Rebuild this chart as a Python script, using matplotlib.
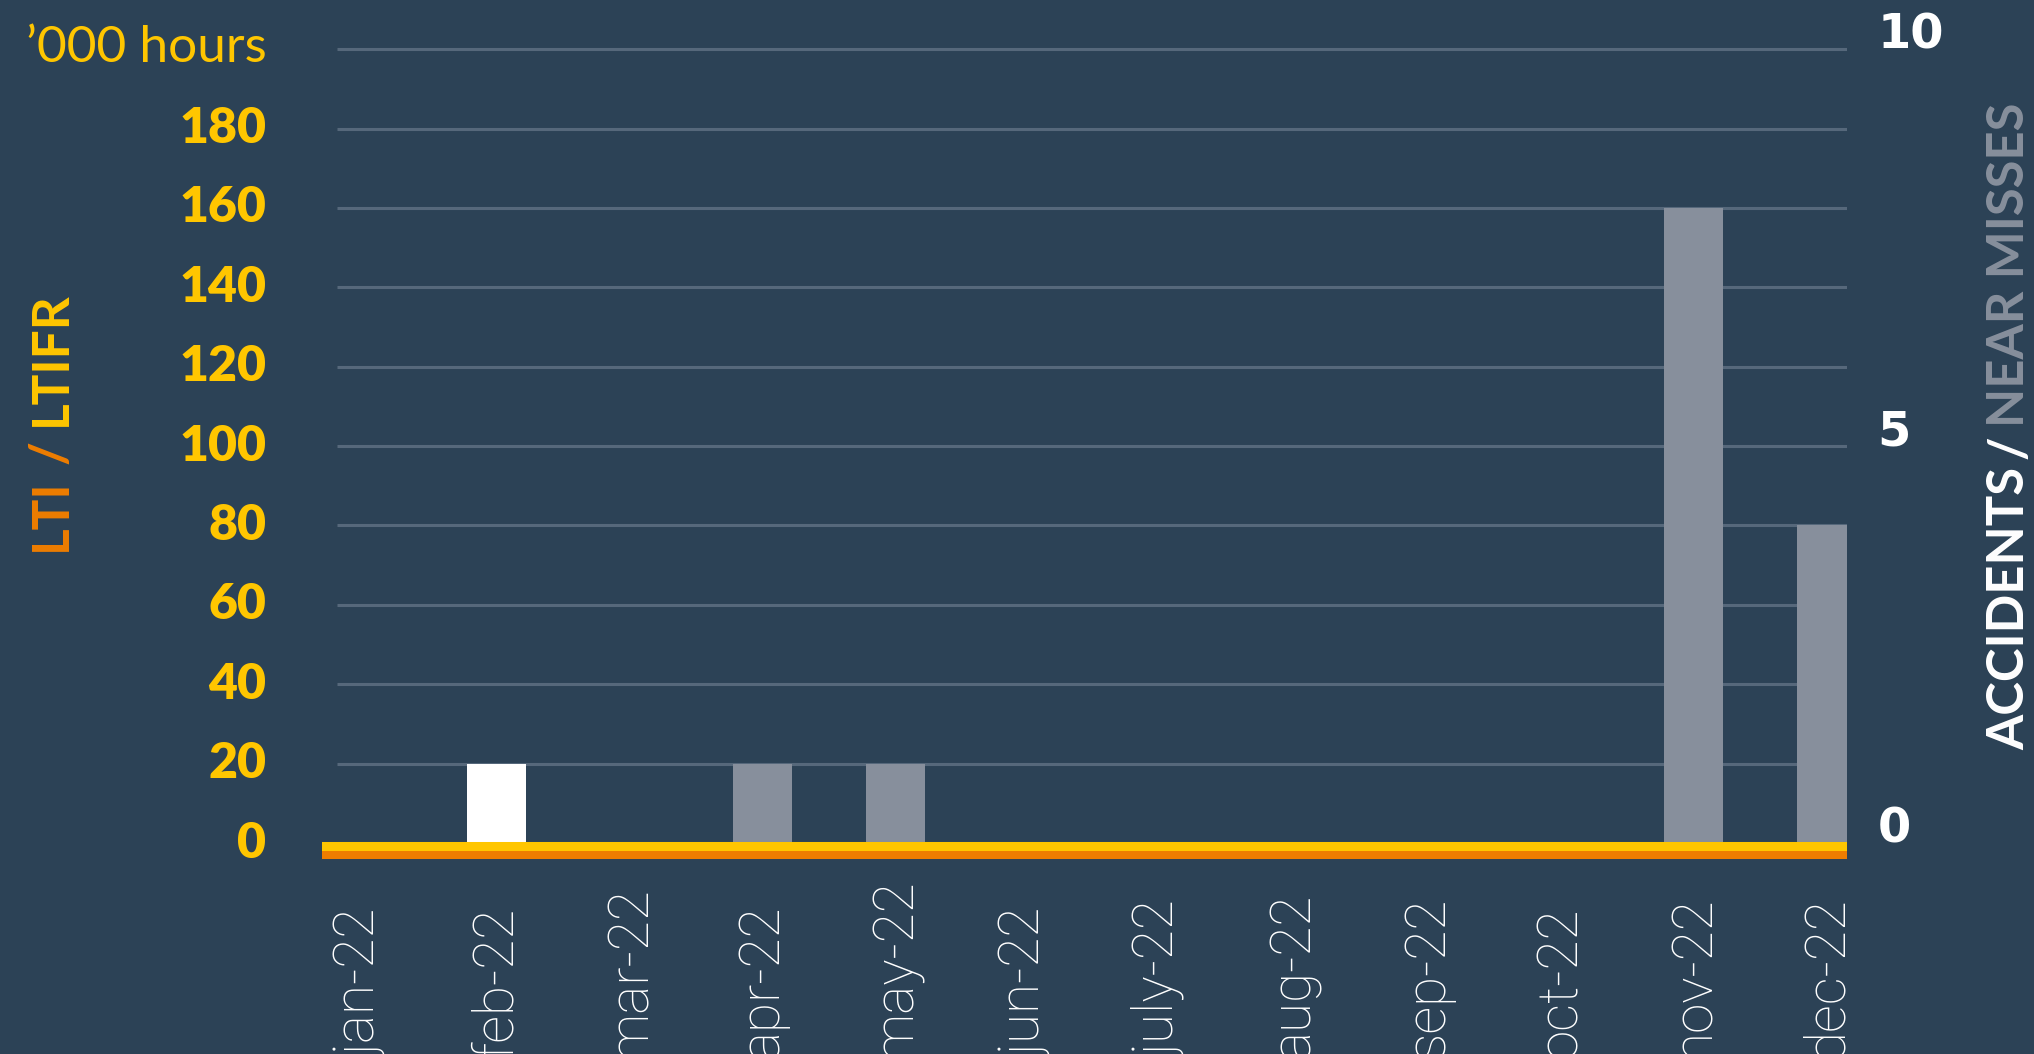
import numpy as np
import matplotlib.pyplot as plt
from matplotlib import transforms

# data
months = ['jan-22', 'feb-22', 'mar-22', 'apr-22', 'may-22', 'jun-22',
          'july-22', 'aug-22', 'sep-22', 'oct-22', 'nov-22', 'dec-22']
accidents = [0, 1, 0, 0, 0, 0, 0, 0, 0, 0, 0, 0]
near_misses = [0, 0, 0, 1, 1, 0, 0, 0, 0, 0, 8, 4]
lti = [0, 0, 0, 0, 0, 0, 0, 0, 0, 0, 0, 0]
ltifr = [0, 0, 0, 0, 0, 0, 0, 0, 0, 0, 0, 0]
left_ticks = [0, 20, 40, 60, 80, 100, 120, 140, 160, 180]
right_ticks = [0, 5, 10]
grid_levels = [0, 1, 2, 3, 4, 5, 6, 7, 8, 9, 10]   # in right-axis units (x20 on the left)

BG = '#2C4256'
GRID = '#56687B'
GREY = '#878F9C'
YELLOW = '#FFC600'
ORANGE = '#EE7D00'
W, H = 2034, 1054


def stack_rotated(fig, x_px, y_bottom_px, pieces, gap_px, **kw):
    # writes rotated text pieces one after another, from the bottom up
    r = fig.canvas.get_renderer()
    y = y_bottom_px
    for s, c in pieces:
        t = fig.text(x_px / W, 1 - y / H, s, rotation=90, ha='center', va='bottom',
                     color=c, **kw)
        y -= t.get_window_extent(r).height + gap_px


def shift(labels, fig, dy_px):
    for lab in labels:
        lab.set_transform(lab.get_transform() +
                          transforms.ScaledTranslation(0, dy_px / 100, fig.dpi_scale_trans))


def plot():
    fig = plt.figure(figsize=(W / 100, H / 100), dpi=100, facecolor=BG)
    ax = fig.add_axes([322 / W, 1 - 870 / H, 1525 / W, 830 / H])
    ax2 = ax.twinx()
    ax.set_zorder(ax2.get_zorder() + 1)
    ax.patch.set_visible(False)
    ax2.set_facecolor(BG)

    x_lo, x_hi = -0.31, 11.154
    x = np.arange(len(months))
    ax.set_xlim(x_lo, x_hi)
    ax.set_ylim(-6.8, 202.3)
    ax2.set_ylim(-0.34, 10.115)

    # grid (below bars)
    ax2.hlines(grid_levels, -0.2, x_hi, colors=GRID, lw=2.2, zorder=0)

    # bars
    ax2.bar(x, accidents, width=0.44, color='white', zorder=2)
    ax2.bar(x, near_misses, width=0.44, bottom=accidents, color=GREY, zorder=2)

    # LTI / LTIFR lines
    edges = np.arange(len(months) + 1) - 0.5
    off_y = transforms.offset_copy(ax.transData, fig=fig, x=0, y=-2.5, units='dots')
    off_o = transforms.offset_copy(ax.transData, fig=fig, x=0, y=-11.5, units='dots')
    ax.stairs(ltifr, edges, baseline=None, color=YELLOW, lw=6.5, transform=off_y, zorder=4)
    ax.stairs(lti, edges, baseline=None, color=ORANGE, lw=5.8, transform=off_o, zorder=3)

    for a in (ax, ax2):
        for s in a.spines.values():
            s.set_visible(False)
    ax.set_xticks([])

    ax.set_yticks(left_ticks, labels=[str(t) for t in left_ticks],
                  fontfamily='Lato', fontweight='heavy', fontsize=36, color=YELLOW)
    ax.tick_params(axis='y', length=0, pad=40)
    shift(ax.get_yticklabels(), fig, 4)
    ax2.set_yticks(right_ticks, labels=[str(t) for t in right_ticks], va='center',
                   fontfamily='DejaVu Sans', fontweight='bold', fontsize=34.5, color='white')
    ax2.tick_params(axis='y', length=0, pad=22)
    shift(ax2.get_yticklabels(), fig, 14)

    # month labels
    tr = transforms.blended_transform_factory(ax.transData, fig.transFigure)
    for i, m in enumerate(months):
        ax.text(x[i], -4 / H, m, transform=tr, rotation=90, ha='center', va='bottom',
                fontfamily=['Roboto', 'Lato'], fontweight='light', fontsize=39.5,
                color='white')

    fig.text(267 / W, 1 - 62 / H, '\u2019000 hours', ha='right', va='baseline',
             fontfamily='Lato', fontsize=37, color=YELLOW)

    # axis titles
    stack_rotated(fig, 51, 551, [('LTI', ORANGE), ('/', ORANGE), ('LTIFR', YELLOW)], 14,
                  fontfamily='Lato', fontweight='bold', fontsize=37)
    stack_rotated(fig, 2010, 750, [('ACCIDENTS', 'white'), ('/', 'white'),
                                   ('NEAR MISSES', GREY)], 8,
                  fontfamily='Lato', fontweight='bold', fontsize=36.5)

    fig.savefig('out.png', dpi=100, facecolor=BG)
    plt.close(fig)


if __name__ == '__main__':
    plot()
